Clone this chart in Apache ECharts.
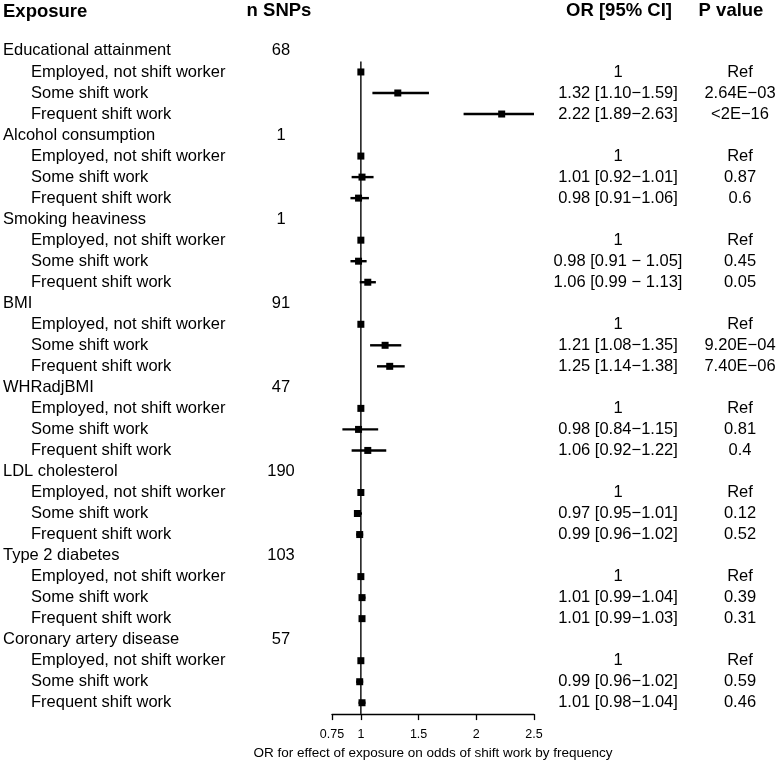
<!DOCTYPE html>
<html>
<head>
<meta charset="utf-8">
<script src="https://cdn.jsdelivr.net/npm/echarts@6/dist/echarts.min.js"></script>
<style>
    html, body { margin: 0; padding: 0; background: #fff; }
    #forest_con { width: 777px; height: 765px; }
</style>
</head>
<body>
<div id="forest_con"></div>
<script>
// exposures and their instrument sizes
const exposures = ['Educational attainment', 'Alcohol consumption', 'Smoking heaviness', 'BMI',
    'WHRadjBMI', 'LDL cholesterol', 'Type 2 diabetes', 'Coronary artery disease'];
const nSnps = ['68', '1', '1', '91', '47', '190', '103', '57'];
const levels = ['Employed, not shift worker', 'Some shift work', 'Frequent shift work'];

// plotted estimates (reference level is 1)
const someOR = [1.32, 1.01, 0.98, 1.21, 0.98, 0.97, 1.01, 0.99];
const someLo = [1.10, 0.92, 0.91, 1.08, 0.84, 0.95, 0.99, 0.96];
const someHi = [1.59, 1.11, 1.05, 1.35, 1.15, 1.01, 1.04, 1.02];
const freqOR = [2.22, 0.98, 1.06, 1.25, 1.06, 0.99, 1.01, 1.01];
const freqLo = [1.89, 0.91, 0.99, 1.14, 0.92, 0.96, 0.99, 0.98];
const freqHi = [2.63, 1.07, 1.13, 1.38, 1.22, 1.02, 1.03, 1.04];

// printed columns
const someText = ['1.32 [1.10\u22121.59]', '1.01 [0.92\u22121.01]', '0.98 [0.91 \u2212 1.05]', '1.21 [1.08\u22121.35]',
    '0.98 [0.84\u22121.15]', '0.97 [0.95\u22121.01]', '1.01 [0.99\u22121.04]', '0.99 [0.96\u22121.02]'];
const freqText = ['2.22 [1.89\u22122.63]', '0.98 [0.91\u22121.06]', '1.06 [0.99 \u2212 1.13]', '1.25 [1.14\u22121.38]',
    '1.06 [0.92\u22121.22]', '0.99 [0.96\u22121.02]', '1.01 [0.99\u22121.03]', '1.01 [0.98\u22121.04]'];
const someP = ['2.64E\u221203', '0.87', '0.45', '9.20E\u221204', '0.81', '0.12', '0.39', '0.59'];
const freqP = ['<2E\u221216', '0.6', '0.05', '7.40E\u221206', '0.4', '0.52', '0.31', '0.46'];

const xTicks = [0.75, 1, 1.5, 2, 2.5];

const FONT = 'Liberation Sans, Arial, Helvetica, sans-serif';
const X_MIN = 0.75, X_MAX = 2.5;
const Y_MIN = -2.423, Y_MAX = 31.54;

// build rows: group header then 3 levels
let tableRows = [];
let forestRows = [];
exposures.forEach(function (name, g) {
    const base = g * 4;
    tableRows.push([base, name, nSnps[g], '', '', 0]);
    tableRows.push([base + 1, levels[0], '', '1', 'Ref', 1]);
    tableRows.push([base + 2, levels[1], '', someText[g], someP[g], 1]);
    tableRows.push([base + 3, levels[2], '', freqText[g], freqP[g], 1]);
    forestRows.push([1, base + 1, 1, 1]);
    forestRows.push([someOR[g], base + 2, someLo[g], someHi[g]]);
    forestRows.push([freqOR[g], base + 3, freqLo[g], freqHi[g]]);
});

let chart = echarts.init(document.getElementById('forest_con'));

const textStyle = function (txt, x, y, align, bold, size) {
    return {
        type: 'text',
        style: {
            text: txt, x: x, y: y, align: align, verticalAlign: 'middle',
            font: (bold ? 'bold ' : '') + size + 'px ' + FONT, fill: '#000'
        }
    };
};

const option = {
    animation: false,
    backgroundColor: '#fff',
    grid: { left: 332, right: 243, top: 0, bottom: 46 },
    xAxis: {
        type: 'value', min: X_MIN, max: X_MAX,
        axisLine: { show: true, onZero: false, lineStyle: { color: '#000', width: 1.3 } },
        axisTick: { show: true, customValues: xTicks, length: 6, lineStyle: { color: '#000', width: 1.3 } },
        axisLabel: { customValues: xTicks, margin: 14, color: '#000', fontSize: 12.5, fontFamily: FONT },
        splitLine: { show: false },
        name: 'OR for effect of exposure on odds of shift work by frequency',
        nameLocation: 'middle', nameGap: 30,
        nameTextStyle: { color: '#000', fontSize: 13.5, fontFamily: FONT }
    },
    yAxis: {
        type: 'value', inverse: true, min: Y_MIN, max: Y_MAX, show: false
    },
    graphic: [
        { type: 'text', left: 3, top: 2, style: { text: 'Exposure', font: 'bold 18.5px ' + FONT, fill: '#000' } },
        { type: 'text', style: { text: 'n SNPs', x: 279, y: 11, align: 'center', verticalAlign: 'middle', font: 'bold 18.5px ' + FONT, fill: '#000' } },
        { type: 'text', style: { text: 'OR [95% CI]', x: 619, y: 11, align: 'center', verticalAlign: 'middle', font: 'bold 18.5px ' + FONT, fill: '#000' } },
        { type: 'text', style: { text: 'P value', x: 731, y: 11, align: 'center', verticalAlign: 'middle', font: 'bold 18.5px ' + FONT, fill: '#000' } }
    ],
    series: [
        {
            // reference line at OR = 1
            type: 'custom',
            data: [[1, 0.5, Y_MAX]],
            renderItem: function (params, api) {
                const p0 = api.coord([api.value(0), api.value(1)]);
                const p1 = api.coord([api.value(0), api.value(2)]);
                return {
                    type: 'line',
                    shape: { x1: p0[0], y1: p0[1], x2: p1[0], y2: p1[1] },
                    style: { stroke: '#222', lineWidth: 1.6 }
                };
            }
        },
        {
            // estimates and confidence intervals
            type: 'custom',
            clip: true,
            data: forestRows,
            renderItem: function (params, api) {
                const pt = api.coord([api.value(0), api.value(1)]);
                const lo = api.coord([api.value(2), api.value(1)]);
                const hi = api.coord([api.value(3), api.value(1)]);
                const s = 7;
                return {
                    type: 'group',
                    children: [
                        {
                            type: 'line',
                            shape: { x1: lo[0], y1: lo[1], x2: hi[0], y2: hi[1] },
                            style: { stroke: '#000', lineWidth: 2.4 }
                        },
                        {
                            type: 'rect',
                            shape: { x: pt[0] - s / 2, y: pt[1] - s / 2, width: s, height: s },
                            style: { fill: '#000' }
                        }
                    ]
                };
            }
        },
        {
            // table text
            type: 'custom',
            data: tableRows,
            renderItem: function (params, api) {
                const row = tableRows[params.dataIndex];
                const y = api.coord([1, row[0]])[1];
                const indent = row[5] ? 31 : 3;
                let kids = [textStyle(row[1], indent, y, 'left', false, 16.5)];
                if (row[2]) kids.push(textStyle(row[2], 281, y, 'center', false, 16.5));
                if (row[3]) kids.push(textStyle(row[3], 618, y, 'center', false, 16.5));
                if (row[4]) kids.push(textStyle(row[4], 740, y, 'center', false, 16.5));
                return { type: 'group', children: kids };
            }
        }
    ]
};

chart.setOption(option);
</script>
</body>
</html>
